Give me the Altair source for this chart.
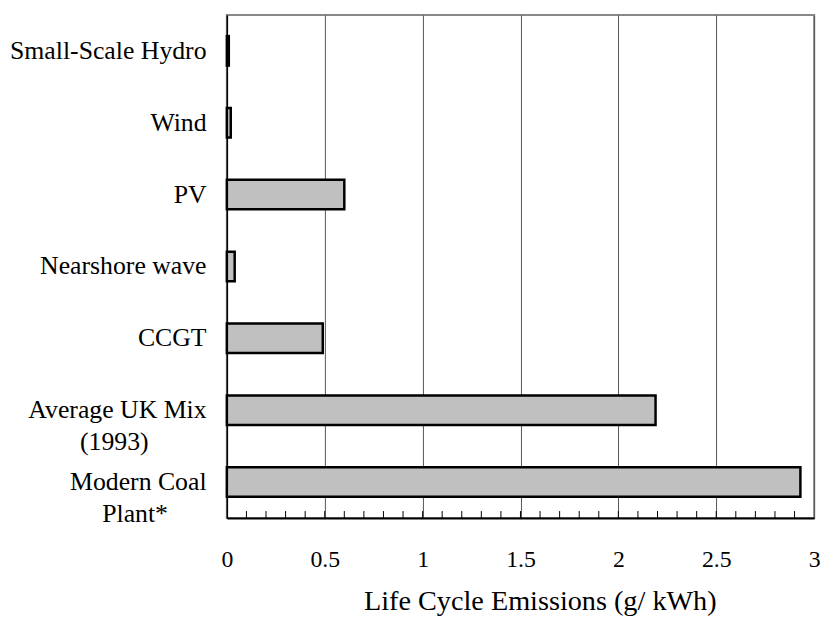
import altair as alt
import pandas as pd

NB = "\u00a0"
ZW = "\u200b"
categories = ["Small-Scale Hydro", "Wind", "PV", "Nearshore wave", "CCGT",
              "Average UK Mix (1993)", "Modern Coal Plant*"]
labels = ["Small-Scale Hydro", "Wind", "PV", "Nearshore wave", "CCGT",
          "Average UK Mix|(1993)" + NB * 9 + ZW, "Modern Coal|Plant*" + NB * 6 + ZW]
values = [0.01, 0.02, 0.6, 0.04, 0.49, 2.19, 2.93]
x_ticks = [0, 0.5, 1, 1.5, 2, 2.5, 3]
minor_ticks = [0.1, 0.2, 0.3, 0.4, 0.5, 0.6, 0.7, 0.8, 0.9, 1.0,
               1.1, 1.2, 1.3, 1.4, 1.5, 1.6, 1.7, 1.8, 1.9, 2.0,
               2.1, 2.2, 2.3, 2.4, 2.5, 2.6, 2.7, 2.8, 2.9]
x_title = "Life Cycle Emissions (g/ kWh)"

df = pd.DataFrame({"label": labels, "value": values})
ticks_df = pd.DataFrame({"t": minor_ticks})

FONT = "Liberation Serif"
W, H = 593, 508

xscale = alt.Scale(domain=[0, 3], nice=False, zero=True)

bars = alt.Chart(df).mark_bar(
    fill="#c0c0c0", stroke="#000000", strokeWidth=2.5
).encode(
    x=alt.X("value:Q", scale=xscale,
            axis=alt.Axis(values=x_ticks, format="~g", title=x_title,
                          grid=True, gridColor="#555555", gridWidth=1,
                          ticks=False, domainColor="#000000", domainWidth=2,
                          labelFont=FONT, labelFontSize=24, labelColor="#000000",
                          labelPadding=30, labelFlush=False, labelOverlap=False,
                          titleFont=FONT, titleFontSize=28.5,
                          titleFontWeight="normal", titleColor="#000000",
                          titleX=316, titleY=92, titleAlign="center",
                          titleBaseline="alphabetic")),
    y=alt.Y("label:N", sort=labels,
            scale=alt.Scale(paddingInner=0.59, paddingOuter=0.295),
            axis=alt.Axis(title=None, ticks=False, grid=False, domainColor="#000000",
                          domainWidth=1.5, labelFont=FONT, labelFontSize=26,
                          labelColor="#000000", labelPadding=21, labelLimit=0,
                          labelLineHeight=32,
                          labelExpr="split(datum.label, '|')")),
)

minor = alt.Chart(ticks_df).mark_rule(color="#000000", strokeWidth=1).encode(
    x=alt.X("t:Q", scale=xscale),
    y=alt.value(H - 7),
    y2=alt.value(H),
)

chart = alt.layer(bars, minor).properties(
    width=W, height=H,
    autosize=alt.AutoSizeParams(type="none"),
    padding={"left": 221, "top": 4, "right": 11, "bottom": 99},
).configure_view(stroke="#888888", strokeWidth=2)

chart.save("out.html", embed_options={"renderer": "svg", "actions": False})
